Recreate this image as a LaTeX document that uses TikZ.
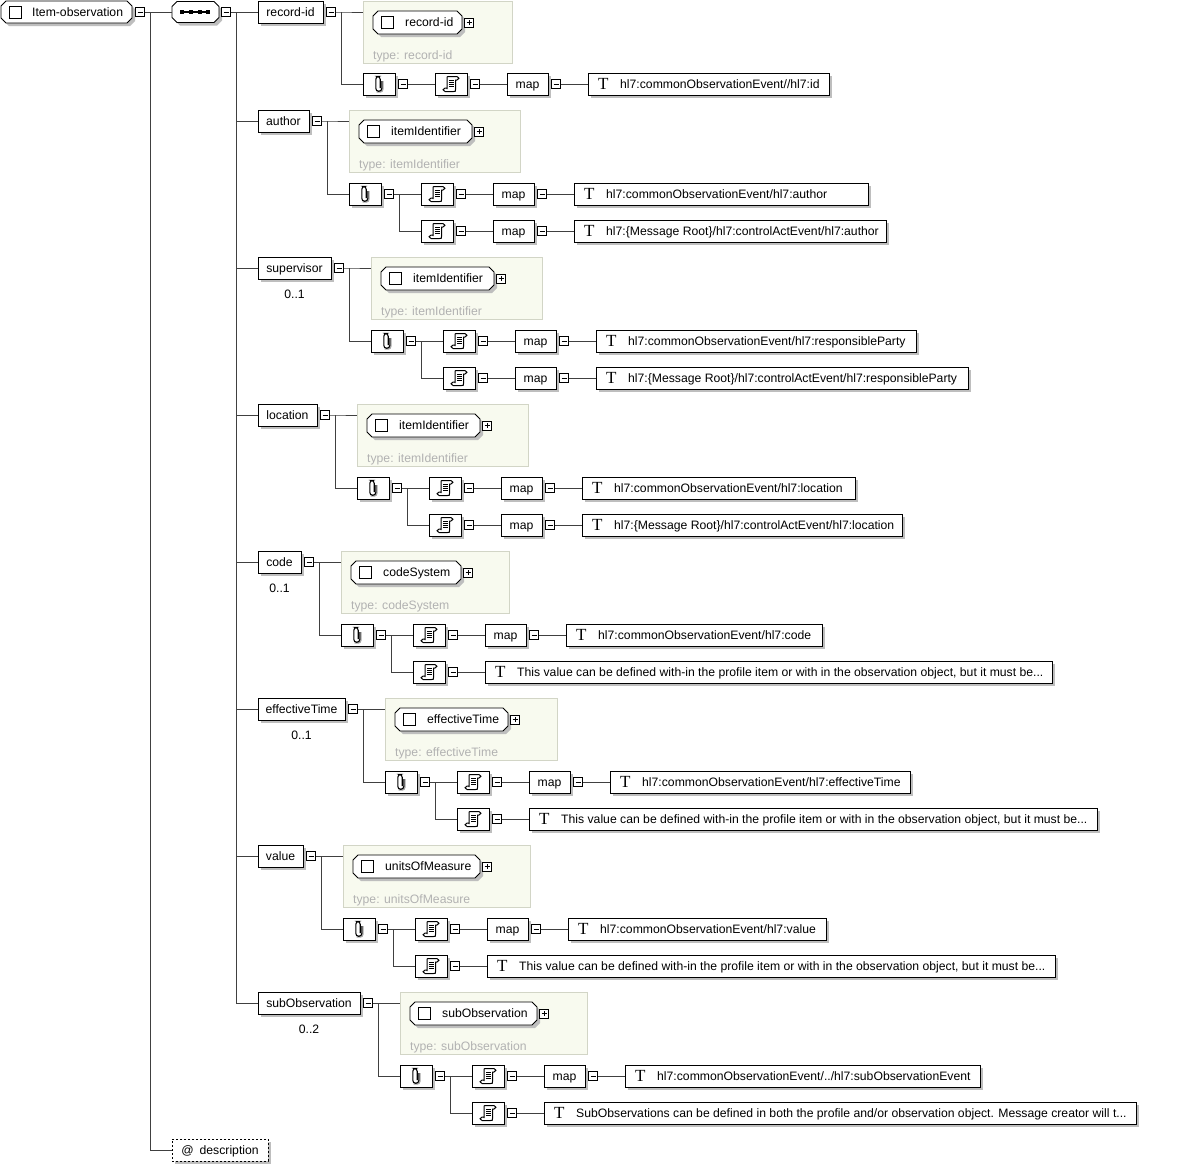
\documentclass[tikz,border=0pt]{standalone}
\usepackage{fontspec}
\setmainfont{Liberation Sans}
\newfontfamily\tfont{Liberation Serif}
\usetikzlibrary{shadows}

\definecolor{wire}{HTML}{404040}
\definecolor{shd}{HTML}{BEBEBE}
\definecolor{tyfill}{HTML}{F8FAEF}
\definecolor{tyedge}{HTML}{D2D5C6}
\definecolor{tytext}{HTML}{B2B2B2}

\newcommand\fs{\fontsize{12.2}{14}\selectfont}

\tikzset{
  conn/.style={draw=wire, line width=0.9pt},
  shadowed/.style={drop shadow={shadow xshift=3pt, shadow yshift=-3pt, fill=shd, opacity=1}},
  rbox/.style={draw=black, fill=white, line width=0.9pt, inner sep=0pt, minimum height=22pt,
    text height=8pt, text depth=0pt, font=\fs, shadowed},
  togm/.style={draw=black, fill=white, line width=0.7pt, minimum size=9pt, inner sep=0pt,
    path picture={\draw[line width=0.7pt] ([xshift=2pt]path picture bounding box.west) -- ([xshift=-2pt]path picture bounding box.east);}},
  togp/.style={draw=black, fill=white, line width=0.7pt, minimum size=9pt, inner sep=0pt,
    path picture={\draw[line width=0.7pt] ([xshift=2pt]path picture bounding box.west) -- ([xshift=-2pt]path picture bounding box.east)
      ([yshift=2pt]path picture bounding box.south) -- ([yshift=-2pt]path picture bounding box.north);}},
  typebox/.style={draw=tyedge, fill=tyfill, line width=0.8pt, inner sep=0pt, minimum height=62pt},
  typetxt/.style={font=\fs, text=tytext, inner sep=0pt},
  txt/.style={font=\fs, inner sep=0pt},
  tsym/.style={font=\tfont\fontsize{17}{17}\selectfont, inner sep=0pt},
  octline/.style={draw=black, fill=white, line width=0.9pt},
  octshadow/.style={fill=shd, shift={(3pt,-3pt)}},
  hidden/.style={inner sep=0pt, outer sep=0pt},
}

% chamfered outline: left, top, right, bottom
\newcommand\octo[5][]{\path[#1] ({#2+5},{#3}) -- ({#4-5},{#3}) -- ({#4},{#3+5}) -- ({#4},{#5-5})
  -- ({#4-5},{#5}) -- ({#2+5},{#5}) -- ({#2},{#5-5}) -- ({#2},{#3+5}) -- cycle;}

% element with check box: id, left x, centre y, width, label
\newcommand\elem[5]{%
  \pgfmathsetmacro\elR{#2+#4}\pgfmathsetmacro\elT{#3-11.5}\pgfmathsetmacro\elB{#3+11.5}%
  \octo[octshadow]{#2}{\elT}{\elR}{\elB}
  \octo[octline]{#2}{\elT}{\elR}{\elB}
  \draw[line width=0.8pt] ({#2+8},{#3-6}) rectangle ({#2+20},{#3+6});
  \node[txt, anchor=base west] (#1) at ({#2+32},{#3+4}) {#5};
}

% child element with its type box: id, right edge, y, label, type, element width, type box width, occurrence
\newcommand\headblock[8]{%
  \node[rbox, minimum width={#2-258}] (#1) at ({(258+#2)/2},{#3}) {#4};
  \node[togm] (#1-t) at ({#2+8},{#3}) {};
  \coordinate (#1-v) at ({#2+18},{#3});
  \node[typebox, minimum width=#7, anchor=north west] (#1-ty) at ({#2+40},{#3-11}) {};
  \draw[conn] (#1-t.east) -- (#1-v) -- (#1-ty.west |- #1-v);
  \pgfmathsetmacro\hbx{#2+50}\pgfmathsetmacro\hby{#3+10.5}\pgfmathsetmacro\hbp{#2+50+#6+7}%
  \elem{#1-el}{\hbx}{\hby}{#6}{#5}
  \node[togp] (#1-elt) at ({\hbp},{\hby}) {};
  \node[typetxt, anchor=base west] (#1-tx) at ({#2+50},{#3+47}) {type: #5};
  \ifx\relax#8\relax\else
    \node[txt, anchor=base] (#1-m) at ({(258+#2)/2},{#3+30}) {#8};
  \fi
}

\newcommand\pinbox[3]{%
  \node[rbox, minimum width=32pt] (#1) at ({#2+16},{#3}) {};
  \begin{scope}[shift={(#1.center)}]
    \draw[black!35, line width=1.8pt, rounded corners=2.5pt] (3.6,-3) -- (3.6,7.8) -- (-2.5,7.8);
    \draw[line width=1.1pt, rounded corners=2.8pt] (2.8,-3) -- (2.8,7.2) -- (-3.2,7.2) -- (-3.2,-7.5) -- (1.2,-7.5) -- (1.2,4);
  \end{scope}
  \node[togm] (#1-t) at ({#2+40},{#3}) {};
}

\newcommand\docbox[3]{%
  \node[rbox, minimum width=32pt] (#1) at ({#2+16},{#3}) {};
  \begin{scope}[shift={(#1.center)}]
    \draw[line width=1pt, fill=white] (-4,5) -- (-4,-5.5) .. controls (-4,-7.5) .. (-2,-7.5) -- (6,-7.5)
      .. controls (8.5,-7.5) and (8.5,-4) .. (6,-4) -- (4.5,-4) -- (4.5,5.5) .. controls (4.5,7.5) .. (2.5,7.5) -- (-6,7.5)
      .. controls (-8.5,7.5) and (-8.5,4) .. (-6,4) -- (-4,4);
    \draw[line width=0.9pt] (-2,-4) -- (2.5,-4) (-2,-1.7) -- (2.5,-1.7) (-2,0.6) -- (2.5,0.6) (-2,2.9) -- (2.5,2.9);
  \end{scope}
  \node[togm] (#1-t) at ({#2+40},{#3}) {};
}

\newcommand\mapbox[3]{%
  \node[rbox, minimum width=41pt] (#1) at ({#2+20.5},{#3}) {map};
  \node[togm] (#1-t) at ({#2+49},{#3}) {};
}

% text box: id, left, y, width, text
\newcommand\tbox[5]{%
  \node[rbox, minimum width=#4, anchor=west] (#1) at ({#2},{#3}) {};
  \node[tsym, anchor=base west] (#1-T) at ({#2+10},{#3+5.5}) {T};
  \node[txt, anchor=base west] (#1-x) at ({#2+32},{#3+4}) {#5};
}

% first mapping row: id, left, y, width, text
\newcommand\attrone[5]{%
  \pgfmathsetmacro\aoA{#2+72}\pgfmathsetmacro\aoB{#2+144}\pgfmathsetmacro\aoC{#2+225}%
  \pinbox{#1-p}{#2}{#3}
  \docbox{#1-d1}{\aoA}{#3}
  \mapbox{#1-m1}{\aoB}{#3}
  \tbox{#1-x1}{\aoC}{#3}{#4}{#5}
  \draw[conn] (#1-v) |- (#1-p.west);
  \draw[conn] (#1-p-t.east) -- (#1-d1.west);
  \draw[conn] (#1-d1-t.east) -- (#1-m1.west);
  \draw[conn] (#1-m1-t.east) -- (#1-x1.west);
}

% second mapping row with map: id, left, y, width, text
\newcommand\attrtwo[5]{%
  \pgfmathsetmacro\atA{#2+72}\pgfmathsetmacro\atB{#2+144}\pgfmathsetmacro\atC{#2+225}%
  \coordinate (#1-w) at ({#2+50},{#3-37});
  \docbox{#1-d2}{\atA}{#3}
  \mapbox{#1-m2}{\atB}{#3}
  \tbox{#1-x2}{\atC}{#3}{#4}{#5}
  \draw[conn] (#1-w) |- (#1-d2.west);
  \draw[conn] (#1-d2-t.east) -- (#1-m2.west);
  \draw[conn] (#1-m2-t.east) -- (#1-x2.west);
}

% second row with a note only: id, left, y, width, text
\newcommand\attrnote[5]{%
  \pgfmathsetmacro\anA{#2+72}\pgfmathsetmacro\anB{#2+144}%
  \coordinate (#1-w) at ({#2+50},{#3-37});
  \docbox{#1-d2}{\anA}{#3}
  \tbox{#1-x2}{\anB}{#3}{#4}{#5}
  \draw[conn] (#1-w) |- (#1-d2.west);
  \draw[conn] (#1-d2-t.east) -- (#1-x2.west);
}

\begin{document}
\begin{tikzpicture}[x=1pt, y=-1pt]
\fill[white] (0,0) rectangle (1178,1168);
\useasboundingbox (0,0) rectangle (1178,1168);

% root element
\octo[octshadow]{1}{1}{132}{23}
\octo[octline]{1}{1}{132}{23}
\node[hidden, minimum width=131pt, minimum height=22pt] (root) at (66.5,12) {};
\draw[line width=0.8pt] (9,6) rectangle (21,18);
\node[txt, anchor=base west] (root-l) at (32,16) {Item-observation};
\node[togm] (root-t) at (140,12) {};
\coordinate (trunk) at (150,12);

% sequence compositor
\octo[octshadow]{172}{1.5}{219}{22.5}
\octo[octline]{172}{1.5}{219}{22.5}
\node[hidden, minimum width=47pt, minimum height=21pt] (seq) at (195.5,12) {};
\draw[line width=1.2pt] (181,12) -- (209,12);
\foreach \i in {182,191,200,208}
  \fill ({\i-1.8},10.2) rectangle ({\i+1.8},13.8);
\node[togm] (seq-t) at (226,12) {};
\coordinate (strunk) at (236,12);
\draw[conn] (root-t.east) -- (seq.west);

% children of the sequence
\headblock{rec}{323}{12}{record-id}{record-id}{89}{149}{}
\attrone{rec}{363}{84}{241}{hl7:commonObservationEvent//hl7:id}

\headblock{aut}{309}{121}{author}{itemIdentifier}{113}{171}{}
\attrone{aut}{349}{194}{294}{hl7:commonObservationEvent/hl7:author}
\attrtwo{aut}{349}{231}{312}{hl7:\{Message Root\}/hl7:controlActEvent/hl7:author}

\headblock{sup}{331}{268}{supervisor}{itemIdentifier}{113}{171}{0..1}
\attrone{sup}{371}{341}{320}{hl7:commonObservationEvent/hl7:responsibleParty}
\attrtwo{sup}{371}{378}{372}{hl7:\{Message Root\}/hl7:controlActEvent/hl7:responsibleParty}

\headblock{loc}{317}{415}{location}{itemIdentifier}{113}{171}{}
\attrone{loc}{357}{488}{273}{hl7:commonObservationEvent/hl7:location}
\attrtwo{loc}{357}{525}{320}{hl7:\{Message Root\}/hl7:controlActEvent/hl7:location}

\headblock{cod}{301}{562}{code}{codeSystem}{110}{168}{0..1}
\attrone{cod}{341}{635}{256}{hl7:commonObservationEvent/hl7:code}
\attrnote{cod}{341}{672}{567}{This value can be defined with-in the profile item or with in the observation object, but it must be...}

\headblock{eff}{345}{709}{effectiveTime}{effectiveTime}{113}{172}{0..1}
\attrone{eff}{385}{782}{300}{hl7:commonObservationEvent/hl7:effectiveTime}
\attrnote{eff}{385}{819}{568}{This value can be defined with-in the profile item or with in the observation object, but it must be...}

\headblock{val}{303}{856}{value}{unitsOfMeasure}{127}{187}{}
\attrone{val}{343}{929}{258}{hl7:commonObservationEvent/hl7:value}
\attrnote{val}{343}{966}{568}{This value can be defined with-in the profile item or with in the observation object, but it must be...}

\headblock{sub}{360}{1003}{subObservation}{subObservation}{127}{187}{0..2}
\attrone{sub}{400}{1076}{355}{hl7:commonObservationEvent/../hl7:subObservationEvent}
\attrnote{sub}{400}{1113}{592}{SubObservations can be defined in both the profile and/or observation object. Message creator will t...}

\draw[conn] (seq-t.east) -- (rec.west);
\foreach \c in {aut,sup,loc,cod,eff,val,sub}
  \draw[conn] (strunk) |- (\c.west);

% attribute
\node[rbox, dashed, dash pattern=on 2pt off 2pt, minimum width=96pt] (desc) at (220,1150) {@\hspace{6pt}description};
\draw[conn] (trunk) |- (desc.west);
\end{tikzpicture}
\end{document}
